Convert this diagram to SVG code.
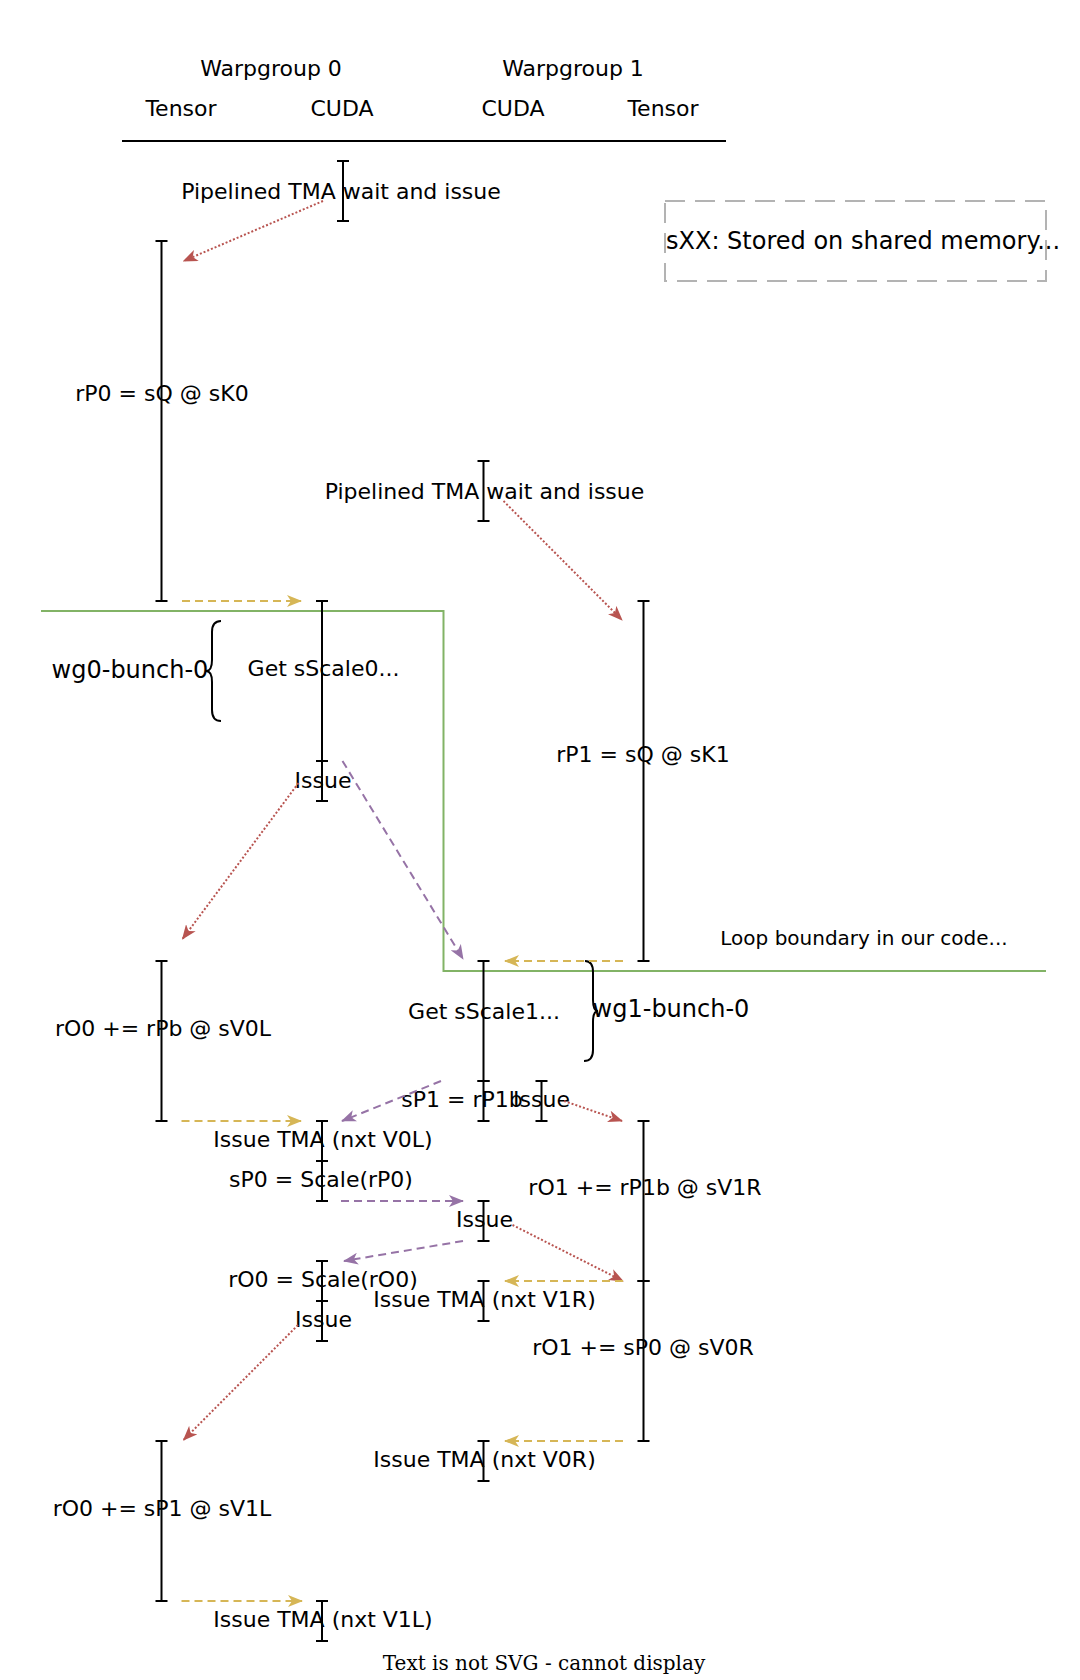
<svg xmlns="http://www.w3.org/2000/svg" width="1080" height="1680" viewBox="0 0 1080 1680">
<defs>
<style>
.bar{stroke:#000;stroke-width:2;fill:none}
.t{font-family:"DejaVu Sans",sans-serif;font-size:22px;fill:#000;text-anchor:middle}
.t24{font-family:"DejaVu Sans",sans-serif;font-size:24px;fill:#000}
.t20{font-family:"DejaVu Sans",sans-serif;font-size:20px;fill:#000}
.red{stroke:#b85450;stroke-width:2;stroke-dasharray:2 2;fill:none}
.pur{stroke:#9673a6;stroke-width:2;stroke-dasharray:8 5;fill:none}
.yel{stroke:#d6b656;stroke-width:2;stroke-dasharray:8 5;fill:none}
</style>
<marker id="mr" markerUnits="userSpaceOnUse" markerWidth="15" markerHeight="12" refX="14" refY="6" orient="auto" viewBox="0 0 15 12"><path d="M15,6 L0,0 L4,6 L0,12 Z" fill="#b85450"/></marker>
<marker id="mp" markerUnits="userSpaceOnUse" markerWidth="15" markerHeight="12" refX="14" refY="6" orient="auto" viewBox="0 0 15 12"><path d="M15,6 L0,0 L4,6 L0,12 Z" fill="#9673a6"/></marker>
<marker id="my" markerUnits="userSpaceOnUse" markerWidth="15" markerHeight="12" refX="14" refY="6" orient="auto" viewBox="0 0 15 12"><path d="M15,6 L0,0 L4,6 L0,12 Z" fill="#d6b656"/></marker>
</defs>
<rect width="1080" height="1680" fill="#fff"/>

<g id="header">
<text class="t" x="271" y="76">Warpgroup 0</text>
<text class="t" x="573" y="76">Warpgroup 1</text>
<text class="t" x="181" y="116">Tensor</text>
<text class="t" x="342" y="116">CUDA</text>
<text class="t" x="513" y="116">CUDA</text>
<text class="t" x="663" y="116">Tensor</text>
<path d="M122,141 H726" stroke="#000" stroke-width="2"/>
</g>

<g id="legend">
<rect x="665" y="201" width="381" height="80" fill="none" stroke="#b3b3b3" stroke-width="2" stroke-dasharray="20 10"/>
<text class="t24" x="666" y="249">sXX: Stored on shared memory...</text>
</g>

<g id="loop-boundary">
<path d="M41,611 H443.5 V971 H1046" fill="none" stroke="#82b366" stroke-width="2"/>
<text class="t20" x="864" y="945" text-anchor="middle">Loop boundary in our code...</text>
</g>

<g id="wg0-bunch-0">
<path d="M221,621 Q212,621 212,632 L212,660 Q212,671 206,671 Q212,671 212,682 L212,710 Q212,721 221,721" fill="none" stroke="#000" stroke-width="2"/>
<text class="t24" x="130" y="678" text-anchor="middle">wg0-bunch-0</text>
</g>

<g id="wg1-bunch-0">
<path d="M585,961 Q593,961 593,972 L593,1000 Q593,1011 598,1011 Q593,1011 593,1022 L593,1050 Q593,1061 584,1061" fill="none" stroke="#000" stroke-width="2"/>
<text class="t24" x="671" y="1017" text-anchor="middle">wg1-bunch-0</text>
</g>

<g id="tma-wait-0">
<path class="bar" d="M343,161 V221 M337,161 H349 M337,221 H349"/>
<text class="t" x="341" y="199">Pipelined TMA wait and issue</text>
</g>
<g id="tma-wait-1">
<path class="bar" d="M483.5,461 V521 M477.5,461 H489.5 M477.5,521 H489.5"/>
<text class="t" x="484.5" y="499">Pipelined TMA wait and issue</text>
</g>

<g id="rP0">
<path class="bar" d="M161.5,241 V601 M155.5,241 H167.5 M155.5,601 H167.5"/>
<text class="t" x="162" y="401">rP0 = sQ @ sK0</text>
</g>
<g id="rO0-a">
<path class="bar" d="M161.5,961 V1121 M155.5,961 H167.5 M155.5,1121 H167.5"/>
<text class="t" x="163" y="1036">rO0 += rPb @ sV0L</text>
</g>
<g id="rO0-b">
<path class="bar" d="M161.5,1441 V1601 M155.5,1441 H167.5 M155.5,1601 H167.5"/>
<text class="t" x="162" y="1516">rO0 += sP1 @ sV1L</text>
</g>

<g id="get-sscale0">
<path class="bar" d="M322,601 V761 M316,601 H328 M316,761 H328"/>
<text class="t" x="323.5" y="676">Get sScale0...</text>
</g>
<g id="issue-0a">
<path class="bar" d="M322,761 V801 M316,761 H328 M316,801 H328"/>
<text class="t" x="323" y="788">Issue</text>
</g>
<g id="issue-tma-v0l">
<path class="bar" d="M322,1121 V1161 M316,1121 H328 M316,1161 H328"/>
<text class="t" x="323" y="1146.5">Issue TMA (nxt V0L)</text>
</g>
<g id="sp0-scale">
<path class="bar" d="M322,1161 V1201 M316,1161 H328 M316,1201 H328"/>
<text class="t" x="321" y="1186.5">sP0 = Scale(rP0)</text>
</g>
<g id="ro0-scale">
<path class="bar" d="M322,1261 V1301 M316,1261 H328 M316,1301 H328"/>
<text class="t" x="323" y="1286.5">rO0 = Scale(rO0)</text>
</g>
<g id="issue-0b">
<path class="bar" d="M322,1301 V1341 M316,1301 H328 M316,1341 H328"/>
<text class="t" x="323.5" y="1327">Issue</text>
</g>
<g id="issue-tma-v1l">
<path class="bar" d="M322,1601 V1641 M316,1601 H328 M316,1641 H328"/>
<text class="t" x="323" y="1626.5">Issue TMA (nxt V1L)</text>
</g>

<g id="get-sscale1">
<path class="bar" d="M483.5,961 V1081 M477.5,961 H489.5 M477.5,1081 H489.5"/>
<text class="t" x="484" y="1019">Get sScale1...</text>
</g>
<g id="sp1-rp1b">
<path class="bar" d="M483.5,1081 V1121 M477.5,1081 H489.5 M477.5,1121 H489.5"/>
<text class="t" x="462" y="1107">sP1 = rP1b</text>
</g>
<g id="issue-1a">
<path class="bar" d="M541.5,1081 V1121 M535.5,1081 H547.5 M535.5,1121 H547.5"/>
<text class="t" x="541.5" y="1107">Issue</text>
</g>
<g id="issue-1b">
<path class="bar" d="M483.5,1201 V1241 M477.5,1201 H489.5 M477.5,1241 H489.5"/>
<text class="t" x="484.5" y="1227">Issue</text>
</g>
<g id="issue-tma-v1r">
<path class="bar" d="M483.5,1281 V1321 M477.5,1281 H489.5 M477.5,1321 H489.5"/>
<text class="t" x="484.5" y="1307">Issue TMA (nxt V1R)</text>
</g>
<g id="issue-tma-v0r">
<path class="bar" d="M483.5,1441 V1481 M477.5,1441 H489.5 M477.5,1481 H489.5"/>
<text class="t" x="484.5" y="1467">Issue TMA (nxt V0R)</text>
</g>

<g id="rP1">
<path class="bar" d="M643.5,601 V961 M637.5,601 H649.5 M637.5,961 H649.5"/>
<text class="t" x="643" y="762">rP1 = sQ @ sK1</text>
</g>
<g id="rO1-a">
<path class="bar" d="M643.5,1121 V1281 M637.5,1121 H649.5 M637.5,1281 H649.5"/>
<text class="t" x="645" y="1195">rO1 += rP1b @ sV1R</text>
</g>
<g id="rO1-b">
<path class="bar" d="M643.5,1281 V1441 M637.5,1281 H649.5 M637.5,1441 H649.5"/>
<text class="t" x="643" y="1355">rO1 += sP0 @ sV0R</text>
</g>

<g id="connectors">
<path class="red" d="M323,201 L183.5,261" marker-end="url(#mr)"/>
<path class="red" d="M503.5,501 L622,620" marker-end="url(#mr)"/>
<path class="red" d="M298.5,783 L182.5,939" marker-end="url(#mr)"/>
<path class="red" d="M564,1101 L622,1121" marker-end="url(#mr)"/>
<path class="red" d="M512.5,1225 L623,1281" marker-end="url(#mr)"/>
<path class="red" d="M298,1325 L183.5,1440" marker-end="url(#mr)"/>
<path class="pur" d="M342.5,761 L463,959" marker-end="url(#mp)"/>
<path class="pur" d="M441,1081 L342,1121" marker-end="url(#mp)"/>
<path class="pur" d="M341,1201 L463,1201" marker-end="url(#mp)"/>
<path class="pur" d="M463,1241 L344,1261" marker-end="url(#mp)"/>
<path class="yel" d="M182,601 L301,601" marker-end="url(#my)"/>
<path class="yel" d="M623,961 L505,961" marker-end="url(#my)"/>
<path class="yel" d="M181.5,1121 L301,1121" marker-end="url(#my)"/>
<path class="yel" d="M623,1281 L505,1281" marker-end="url(#my)"/>
<path class="yel" d="M623,1441 L505,1441" marker-end="url(#my)"/>
<path class="yel" d="M181.5,1601 L302,1601" marker-end="url(#my)"/>
</g>

<text x="544" y="1670" font-family="'DejaVu Serif',serif" font-size="20" text-anchor="middle" fill="#000">Text is not SVG - cannot display</text>
</svg>
